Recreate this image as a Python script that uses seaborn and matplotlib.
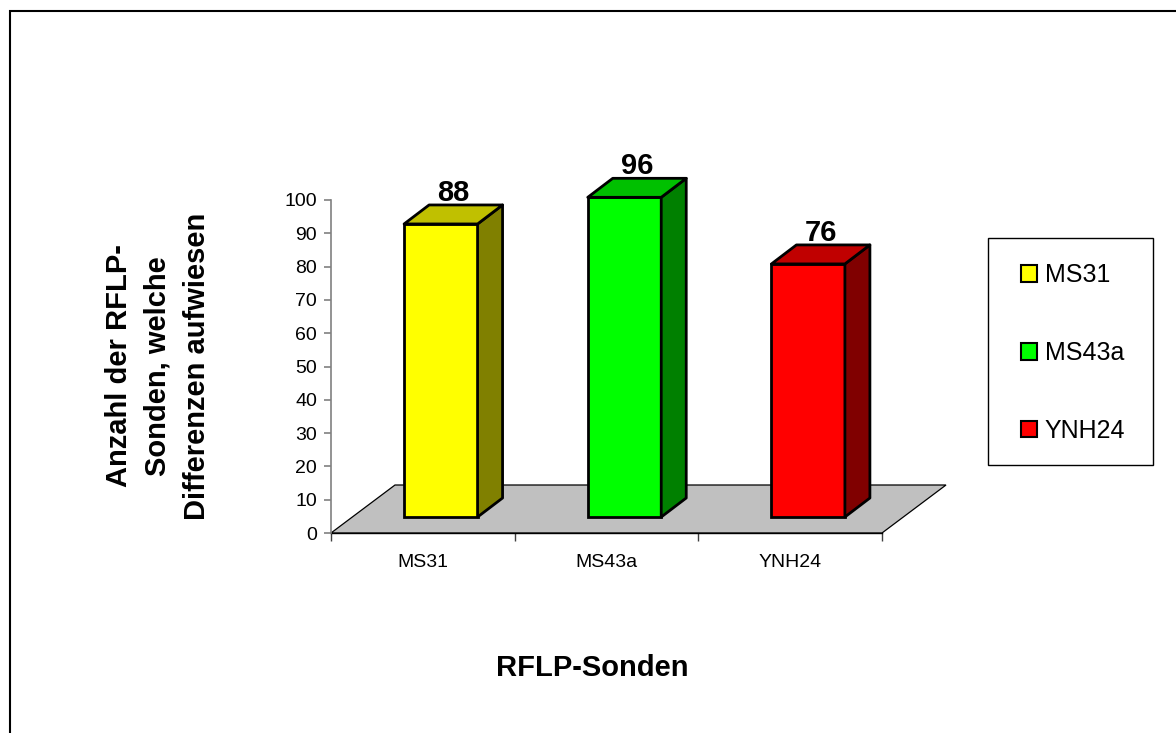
import matplotlib
matplotlib.use("Agg")
import matplotlib.pyplot as plt
import seaborn as sns
import numpy as np
from matplotlib.patches import Polygon, Rectangle, Patch
from matplotlib.transforms import Affine2D

# ---- data ----
categories = ["MS31", "MS43a", "YNH24"]
values = [88, 96, 76]
front_colors = ["#FFFF00", "#00FF00", "#FF0000"]
top_colors = ["#C0C000", "#00C000", "#C00000"]
side_colors = ["#808000", "#008000", "#800000"]
yticks = [0, 10, 20, 30, 40, 50, 60, 70, 80, 90, 100]
ylabel = "Anzahl der RFLP-\nSonden, welche\nDifferenzen aufwiesen"
xlabel = "RFLP-Sonden"

sns.set_theme(style="white")
plt.rcParams["font.family"] = ["Liberation Sans", "DejaVu Sans"]
plt.rcParams["text.color"] = "black"
plt.rcParams["axes.labelcolor"] = "black"
plt.rcParams["xtick.color"] = "black"
plt.rcParams["ytick.color"] = "black"

W, H = 1176, 733
fig = plt.figure(figsize=(W / 100, H / 100), dpi=100)

# axes placement (pixel geometry of the reference)
x0, x1 = 331, 882
y0, y1 = 533, 200
ax = fig.add_axes([x0 / W, 1 - y0 / H, (x1 - x0) / W, (y0 - y1) / H])

px_per_cat = (x1 - x0) / 3.0
px_per_unit = (y0 - y1) / 100.0

def dxy(px, py):
    return px / px_per_cat, py / px_per_unit

floor_dx, floor_dy = dxy(64, 48)
shift_x, shift_y = dxy(18, 16)
depth_x, depth_y = dxy(25, 19)
bar_w = 0.40

sns.barplot(x=categories, y=values, hue=categories, palette=front_colors,
            width=bar_w, ax=ax, legend=False, edgecolor="black",
            linewidth=2.0, saturation=1, zorder=3)

ax.set_xlim(-0.5, 2.5)
ax.set_ylim(0, 100)

bars = list(ax.patches)

# floor
floor = Polygon([(-0.5, 0), (2.5, 0), (2.5 + floor_dx, floor_dy),
                 (-0.5 + floor_dx, floor_dy)], closed=True,
                facecolor="#C0C0C0", edgecolor="black", linewidth=0.9,
                zorder=1, clip_on=False)
ax.add_patch(floor)

shift = Affine2D().translate(shift_x, shift_y) + ax.transData
for i, p in enumerate(bars):
    p.set_transform(shift)
    p.set_clip_on(False)
    bx, bw, bh = p.get_x(), p.get_width(), p.get_height()
    top = Polygon([(bx, bh), (bx + bw, bh), (bx + bw + depth_x, bh + depth_y),
                   (bx + depth_x, bh + depth_y)], closed=True,
                  facecolor=top_colors[i], edgecolor="black", linewidth=2.0,
                  joinstyle="round", transform=shift, clip_on=False, zorder=3)
    side = Polygon([(bx + bw, 0), (bx + bw + depth_x, depth_y),
                    (bx + bw + depth_x, bh + depth_y), (bx + bw, bh)], closed=True,
                   facecolor=side_colors[i], edgecolor="black", linewidth=2.0,
                   joinstyle="round", transform=shift, clip_on=False, zorder=3)
    ax.add_patch(side)
    ax.add_patch(top)
    ax.annotate(str(values[i]), xy=(bx + bw / 2 + depth_x / 2, bh + depth_y),
                xycoords=shift, xytext=(0, -1.5), textcoords="offset points",
                ha="center", va="bottom", fontsize=21, fontweight="bold",
                color="black", annotation_clip=False, zorder=5)

# axes styling
for s in ["top", "right"]:
    ax.spines[s].set_visible(False)
ax.spines["left"].set_color("#808080")
ax.spines["left"].set_linewidth(1.2)
ax.spines["bottom"].set_color("black")
ax.spines["bottom"].set_linewidth(1.0)
ax.spines["bottom"].set_zorder(2)

ax.set_yticks(yticks)
ax.tick_params(axis="y", which="major", direction="out", length=5, width=1.2,
               color="#808080", labelcolor="black", labelsize=14, pad=5,
               left=True)
ax.set_xticks(range(len(categories)))
ax.set_xticklabels(categories)
ax.set_xticks([-0.5, 0.5, 1.5, 2.5], minor=True)
ax.tick_params(axis="x", which="major", length=0, labelsize=14, pad=15,
               labelcolor="black")
ax.tick_params(axis="x", which="minor", direction="out", length=6, width=1.0,
               color="#404040", bottom=True)
ax.set_xlabel("")
ax.set_ylabel("")
ax.patch.set_alpha(0)
ax.grid(False)

# axis titles
fig.text(158 / W, 1 - 366 / H, ylabel, rotation=90, ha="center", va="center",
         multialignment="center", fontsize=21, fontweight="bold",
         linespacing=1.5, color="black")
fig.text(592 / W, 1 - 668 / H, xlabel, ha="center", va="center",
         fontsize=21, fontweight="bold", color="black")

# legend frame + legend
fig.patches.append(Rectangle((988 / W, 1 - 465 / H), (1153 - 988) / W,
                             (465 - 238) / H, transform=fig.transFigure,
                             facecolor="white", edgecolor="black",
                             linewidth=1.0, zorder=0))
handles = [Patch(facecolor=c, edgecolor="black", linewidth=1.5)
           for c in front_colors]
leg = fig.legend(handles, categories, loc="center",
                 bbox_to_anchor=(1073 / W, 1 - 353 / H),
                 frameon=False, fontsize=18, handlelength=0.65,
                 handleheight=0.65, handletextpad=0.3, labelspacing=2.15,
                 borderpad=0, labelcolor="black")

# outer border
fig.patches.append(Rectangle((10 / W, -0.1), 1.2, 1.1 - 11 / H,
                             transform=fig.transFigure, fill=False,
                             edgecolor="black", linewidth=1.5, zorder=10))

fig.savefig("out.png", dpi=100)
